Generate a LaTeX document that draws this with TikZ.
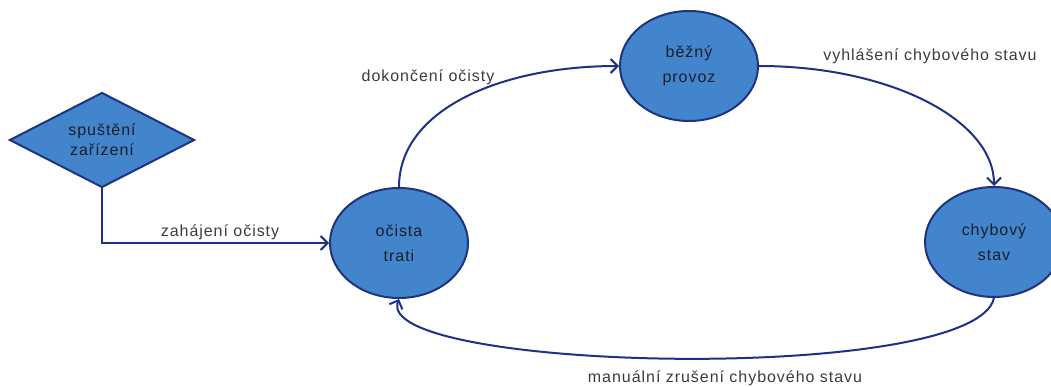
\documentclass[tikz,border=0pt]{standalone}
\usepackage{fontspec}
\setmainfont[LetterSpace=6]{Liberation Sans}
\usetikzlibrary{shapes.geometric,arrows.meta}
\definecolor{statefill}{RGB}{66,133,204}
\definecolor{stateline}{RGB}{30,52,125}
\definecolor{edgeline}{RGB}{32,48,135}
\definecolor{nodetext}{RGB}{28,30,40}
\definecolor{labeltext}{RGB}{60,60,60}
\tikzset{
  state/.style={ellipse, draw=stateline, line width=2pt, fill=statefill,
    minimum width=138pt, minimum height=110pt, inner sep=0pt,
    align=center, text=nodetext, font=\fontsize{16}{25}\selectfont},
  startbox/.style={diamond, draw=stateline, line width=2pt, fill=statefill,
    minimum width=185pt, minimum height=95pt, aspect=1.95, inner sep=0pt,
    align=center, text=nodetext, font=\fontsize{16}{20}\selectfont},
  flow/.style={draw=edgeline, line width=2pt,
    -{Straight Barb[length=7pt,width=14pt,line width=2pt]}},
  edgelabel/.style={text=labeltext, font=\fontsize{16}{18}\selectfont, inner sep=0pt}
}
\begin{document}
\begin{tikzpicture}[x=1pt,y=-1pt]
  \useasboundingbox (0,0) rectangle (1051,387);

  % states
  \node[startbox] (start)  at (102,140) {spuštění\\zařízení};
  \node[state]    (clean)  at (399,243) {očista\\trati};
  \node[state]    (run)    at (689,66)  {běžný\\provoz};
  \node[state]    (fault)  at (994,242) {chybový\\stav};

  % transitions
  \draw[flow] (start.south) |- (clean.west);
  \draw[flow] (clean.north) .. controls (399,110) and (500,66) .. (run.west);
  \draw[flow] (run.east) .. controls (890,66) and (994,120) .. (fault.north);
  \draw[flow] (fault.south) .. controls (975,385) and (370,372) .. (clean.south);

  % transition labels
  \node[edgelabel] (lstart) at (220,232) {zahájení očisty};
  \node[edgelabel] (lclean) at (428,77)  {dokončení očisty};
  \node[edgelabel] (lrun)   at (930,56)  {vyhlášení chybového stavu};
  \node[edgelabel] (lfault) at (725,378) {manuální zrušení chybového stavu};
\end{tikzpicture}
\end{document}
